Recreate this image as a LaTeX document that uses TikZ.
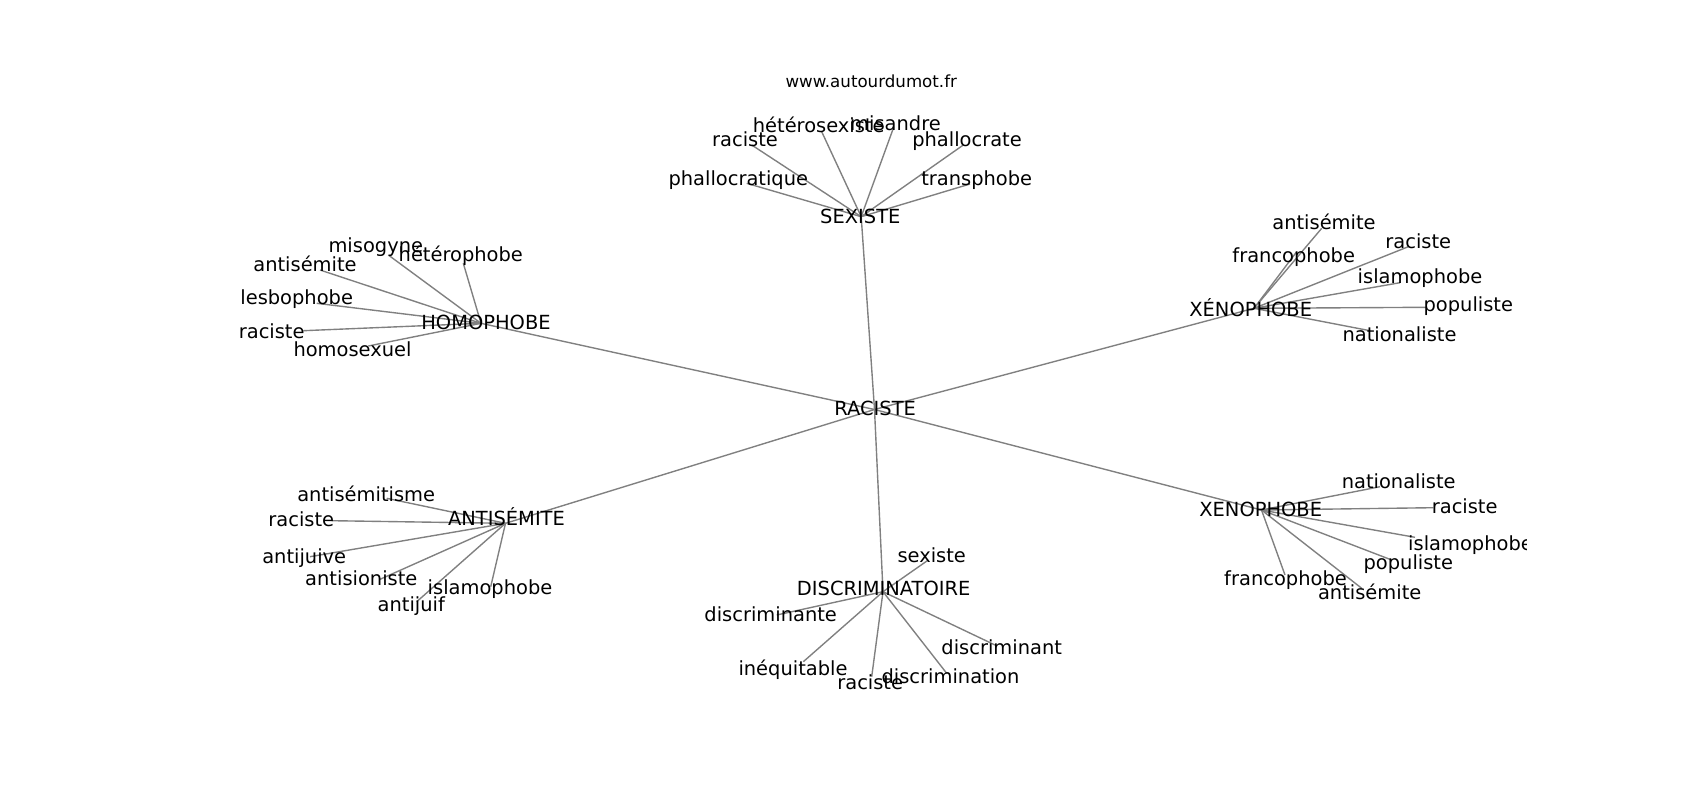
\documentclass[tikz,border=0pt]{standalone}
\usepackage{fontspec}
\setmainfont{DejaVu Sans}
\begin{document}
\begin{tikzpicture}[x=0.72pt,y=-0.72pt,
  edge/.style={draw=black!50, line width=1pt},
  lbl/.style={inner sep=0pt, outer sep=0pt, anchor=base, font=\fontsize{14}{16}\selectfont},
  ttl/.style={inner sep=0pt, outer sep=0pt, anchor=base, font=\fontsize{12}{14}\selectfont}]
\useasboundingbox (0,0) rectangle (1700,800);
\node[ttl] (title) at (871.25,87.67) {www.autourdumot.fr};
\begin{scope}
\clip (212.5,96) rectangle (1526.5,712);
% hub points
\coordinate (R) at (874.5,409.5);
\coordinate (S) at (861.2,216.7);
\coordinate (H) at (481,323.3);
\coordinate (X1) at (1254,308.3);
\coordinate (X2) at (1261.5,510);
\coordinate (A) at (505.5,523.3);
\coordinate (D) at (883,591.7);
% leaf points
\coordinate (s1) at (751.7,145);
\coordinate (s2) at (821.7,131.7);
\coordinate (s3) at (893.3,128.3);
\coordinate (s4) at (963.3,145);
\coordinate (s5) at (970,184);
\coordinate (s6) at (746.7,183.3);
\coordinate (h1) at (388.3,255);
\coordinate (h2) at (463.3,263.3);
\coordinate (h3) at (320,270);
\coordinate (h4) at (316.7,303.3);
\coordinate (h5) at (303.3,330.7);
\coordinate (h6) at (368.3,346);
\coordinate (x1) at (1321.7,228.3);
\coordinate (x2) at (1296.7,251.7);
\coordinate (x3) at (1408.3,246.7);
\coordinate (x4) at (1400,282.7);
\coordinate (x5) at (1426.7,307.3);
\coordinate (x6) at (1370,330.7);
\coordinate (y1) at (1380,486.7);
\coordinate (y2) at (1433.3,507.7);
\coordinate (y3) at (1415,537.3);
\coordinate (y4) at (1391.7,560);
\coordinate (y5) at (1285,575);
\coordinate (y6) at (1361.7,588.3);
\coordinate (a1) at (386.7,498.3);
\coordinate (a2) at (331.7,520.7);
\coordinate (a3) at (310,556.7);
\coordinate (a4) at (380,579.3);
\coordinate (a5) at (490.7,586.7);
\coordinate (a6) at (416.7,601.7);
\coordinate (d1) at (928.3,560);
\coordinate (d2) at (776.7,615);
\coordinate (d3) at (995,645);
\coordinate (d4) at (803.3,661.7);
\coordinate (d5) at (871.7,676.7);
\coordinate (d6) at (946.7,673.3);
% edges
\foreach \h in {S,H,X1,X2,A,D} \draw[edge] (R) -- (\h);
\foreach \l in {s1,s2,s3,s4,s5,s6} \draw[edge] (S) -- (\l);
\foreach \l in {h1,h2,h3,h4,h5,h6} \draw[edge] (H) -- (\l);
\foreach \l in {x1,x2,x3,x4,x5,x6} \draw[edge] (X1) -- (\l);
\foreach \l in {y1,y2,y3,y4,y5,y6} \draw[edge] (X2) -- (\l);
\foreach \l in {a1,a2,a3,a4,a5,a6} \draw[edge] (A) -- (\l);
\foreach \l in {d1,d2,d3,d4,d5,d6} \draw[edge] (D) -- (\l);
% hub labels
\node[lbl] (tR) at (875.2,415) {RACISTE};
\node[lbl] (tS) at (860.3,223.3) {SEXISTE};
\node[lbl] (tH) at (486,329.3) {HOMOPHOBE};
\node[lbl] (tX1) at (1250.7,316) {XÉNOPHOBE};
\node[lbl] (tX2) at (1260.7,516.7) {XENOPHOBE};
\node[lbl] (tA) at (506.5,525) {ANTISÉMITE};
\node[lbl] (tD) at (883.7,595) {DISCRIMINATOIRE};
% leaf labels
\node[lbl] (ts1) at (745,146.7) {raciste};
\node[lbl] (ts2) at (818.7,132.7) {hétérosexiste};
\node[lbl] (ts3) at (895.5,130) {misandre};
\node[lbl] (ts4) at (967,146.7) {phallocrate};
\node[lbl] (ts5) at (976.7,185.7) {transphobe};
\node[lbl] (ts6) at (738.3,185.7) {phallocratique};
\node[lbl] (th1) at (375.8,252.7) {misogyne};
\node[lbl] (th2) at (460.8,261) {hétérophobe};
\node[lbl] (th3) at (305,271) {antisémite};
\node[lbl] (th4) at (296.7,304) {lesbophobe};
\node[lbl] (th5) at (271.7,338.3) {raciste};
\node[lbl] (th6) at (352.5,356.7) {homosexuel};
\node[lbl] (tx1) at (1324,229) {antisémite};
\node[lbl] (tx2) at (1293.7,262.7) {francophobe};
\node[lbl] (tx3) at (1418.3,248.3) {raciste};
\node[lbl] (tx4) at (1420,283.3) {islamophobe};
\node[lbl] (tx5) at (1468.3,311.7) {populiste};
\node[lbl] (tx6) at (1399.5,341.7) {nationaliste};
\node[lbl] (ty1) at (1398.7,488.3) {nationaliste};
\node[lbl] (ty2) at (1464.7,513.3) {raciste};
\node[lbl] (ty3) at (1470.5,550) {islamophobe};
\node[lbl] (ty4) at (1408.3,569) {populiste};
\node[lbl] (ty5) at (1285.5,585) {francophobe};
\node[lbl] (ty6) at (1369.7,599.3) {antisémite};
\node[lbl] (ta1) at (366.2,501.7) {antisémitisme};
\node[lbl] (ta2) at (301.3,526.7) {raciste};
\node[lbl] (ta3) at (304.2,563.3) {antijuive};
\node[lbl] (ta4) at (361.3,585) {antisioniste};
\node[lbl] (ta5) at (490,594) {islamophobe};
\node[lbl] (ta6) at (411.3,611.7) {antijuif};
\node[lbl] (td1) at (931.7,562.7) {sexiste};
\node[lbl] (td2) at (770.7,621.7) {discriminante};
\node[lbl] (td3) at (1001.7,654) {discriminant};
\node[lbl] (td4) at (793,675) {inéquitable};
\node[lbl] (td5) at (870.2,689.3) {raciste};
\node[lbl] (td6) at (950.5,683.3) {discrimination};
\end{scope}
\end{tikzpicture}
\end{document}
